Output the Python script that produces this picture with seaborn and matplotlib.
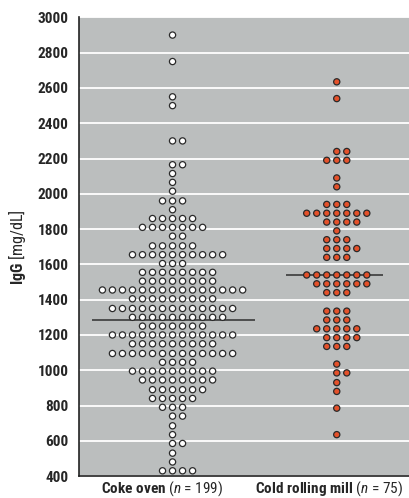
import numpy as np
import pandas as pd
import seaborn as sns
import matplotlib.pyplot as plt

# IgG levels (mg/dL), binned rows of the dot plot, and how many subjects in each row
coke_levels = [2900, 2750, 2550, 2500, 2300, 2165, 2115, 2065, 2015, 1960,
               1910, 1860, 1810, 1760, 1705, 1655, 1605, 1555, 1505, 1455,
               1405, 1350, 1300, 1250, 1200, 1150, 1095, 1045, 995, 945,
               890, 840, 790, 740, 685, 635, 585, 530, 480, 430]
coke_counts = [1, 1, 1, 1, 2, 2, 1, 1, 1, 3,
               1, 5, 7, 2, 5, 10, 3, 8, 8, 15,
               9, 13, 10, 7, 13, 9, 13, 4, 9, 8,
               6, 5, 3, 2, 1, 1, 2, 1, 1, 4]

mill_levels = [2635, 2540, 2240, 2190, 2090, 2040, 1940, 1890, 1840, 1790,
               1740, 1690, 1640, 1540, 1490, 1440, 1335, 1285, 1235, 1185,
               1135, 1035, 985, 930, 880, 785, 635]
mill_counts = [1, 1, 2, 3, 1, 1, 3, 7, 4, 1,
               3, 4, 3, 7, 6, 3, 3, 3, 5, 4,
               3, 1, 2, 1, 1, 1, 1]

groups = ["Coke oven", "Cold rolling mill"]
group_n = [199, 75]
medians = [1285, 1540]
y_ticks = list(range(400, 3001, 200))

sns.set_style("darkgrid", {
    "axes.facecolor": "#bbbebe",
    "grid.color": "white",
    "axes.edgecolor": "#222222",
})
FONT = ["Roboto Condensed", "DejaVu Sans"]
plt.rcParams["font.family"] = FONT
plt.rcParams["mathtext.fontset"] = "custom"
plt.rcParams["mathtext.rm"] = "Roboto Condensed"
plt.rcParams["mathtext.it"] = "Roboto Condensed:italic"
plt.rcParams["mathtext.bf"] = "Roboto Condensed:bold"


def dot_rows(levels, counts, gi, step=0.061):
    # lay each binned row out side by side around the group centre
    rows = []
    for lev, c in zip(levels, counts):
        offs = np.arange(c) - (c - 1) // 2
        for o in offs:
            rows.append({"x": gi + o * step, "IgG": lev, "group": groups[gi]})
    return rows


df = pd.DataFrame(dot_rows(coke_levels, coke_counts, 0) +
                  dot_rows(mill_levels, mill_counts, 1))

fig = plt.figure(figsize=(4.09, 4.98), dpi=100)
ax = fig.add_axes([0.193, 0.044, 0.807, 0.921])

# median lines, behind the dots
ax.hlines(medians[0], -0.49, 0.50, color="#3a3a3a", lw=1.2, zorder=2)
ax.hlines(medians[1], 1 - 0.31, 1 + 0.28, color="#3a3a3a", lw=1.2, zorder=2)

sns.scatterplot(data=df, x="x", y="IgG", hue="group",
                palette={"Coke oven": "white", "Cold rolling mill": "#e4512a"},
                s=20, edgecolor="#2a2a2a", linewidth=0.9, legend=False,
                ax=ax, zorder=3)

ax.set_xlim(-0.57, 1.44)
ax.set_ylim(400, 3000)
ax.set_yticks(y_ticks)
ax.set_yticklabels([str(v) for v in y_ticks], fontweight="heavy", fontsize=11)
# group labels sit a little left of the dot columns, as in the original
ax.set_xticks([-0.065, 0.95])
ax.set_xticklabels([r"$\bf{Coke\ oven}$ ($\it{n}$ = %d)" % group_n[0],
                    r"$\bf{Cold\ rolling\ mill}$ ($\it{n}$ = %d)" % group_n[1]],
                   fontsize=11)
ax.grid(axis="x", visible=False)
ax.grid(axis="y", lw=1.3)
ax.tick_params(axis="y", length=4.5, width=1, color="#222222", pad=3)
ax.tick_params(axis="x", length=0, pad=2.5)
for side in ["top", "right"]:
    ax.spines[side].set_visible(False)
for side in ["left", "bottom"]:
    ax.spines[side].set_visible(True)
    ax.spines[side].set_linewidth(1.2)
ax.set_xlabel("")
ax.set_ylabel(r"$\bf{IgG}$ [mg/dL]", fontsize=11.5, labelpad=7)

fig.savefig("out.png", dpi=100)
